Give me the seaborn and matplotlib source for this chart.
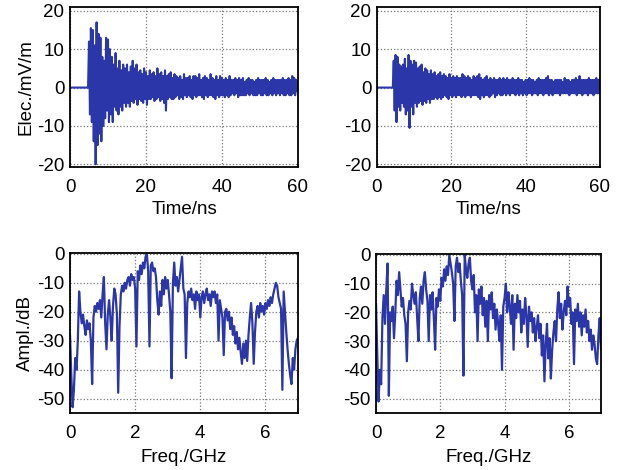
import numpy as np
import seaborn as sns
import matplotlib
matplotlib.use('Agg')
import matplotlib.pyplot as plt

# time axis (ns), 0.25 ns sampling
time_ns = np.arange(0, 60.001, 0.25)

# left time-domain field, mV/m (flat until ~5 ns)
elec_a = [0.0] * 20 + [
    12, -7, 15.5, -9, 15, -14, 11, -20,
    17, -15, 14, -12, 13, -14, 8, -10,
    7, -8, 13, -6, 12.5, -9, 10, -7,
    8, -9, 6, -5, 9, -6, 5, -7,
    7, -5, 4.5, -6, 6, -4, 5, -5,
    6, -4, 4, -5, 5.5, -3.5, 7, -4,
    5, -3, 6, -4.5, 4, -3, 4.5, -3.5,
    3.5, -4, 5, -3, 4, -4.5, 3, -3,
    4.5, -3, 3.5, -2.5, 4, -3.5, 3, -3,
    5, -2.5, 3.5, -3.5, 4, -3, 3, -4,
    4.5, -6, 3, -3, 3.5, -2.5, 4, -3,
    2.5, -3, 3.5, -2.5, 3, -2, 2.5, -3,
    3, -2.5, 2, -3, 3.5, -2, 2.5, -2.5,
    2.5, -2, 3, -2.5, 2, -3, 3, -2,
    3, -2.5, 2.5, -2, 3.5, -2, 2, -2.5,
    2.5, -3, 3, -2, 2.5, -2.5, 2, -2,
    3.5, -2, 2.5, -2.5, 2, -3, 3, -2,
    2, -2.5, 3, -2, 2.5, -2, 2, -2.5,
    2.5, -2, 2, -2.5, 3, -2, 2, -1.5,
    2, -2, 2.5, -1.5, 2, -2.5, 2.5, -2,
    2, -2, 2.5, -2, 1.5, -2, 2, -1.5,
    2.5, -2, 2, -1.5, 2, -2, 1.5, -2,
    2, -2, 2.5, -1.5, 2, -2, 2, -2,
    2, -1.5, 2.5, -2, 2, -2, 1.5, -1.5,
    2, -2, 2.5, -1.5, 2, -2, 2, -1.5,
    2, -2, 2, -1.5, 2.5, -2, 2, -2,
    2, -1.5, 2.5, -2, 2, -2, 3, -1.5,
    2.5, -2, 2, -1, 1.5,
]

# right time-domain field, mV/m (flat until ~4.5 ns)
elec_b = [0.0] * 18 + [
    7, -6, 8.5, -9, 8, -5, 6, -6,
    5.5, -4, 6, -5, 7.5, -7, 5, -6,
    8.5, -10.5, 7, -5, 6, -7, 7, -4,
    6.5, -5, 5, -4, 5.5, -3.5, 6, -4.5,
    4, -3.5, 5, -4, 4.5, -3, 3.5, -4,
    4.5, -3, 3.5, -3, 4, -2.5, 3, -3,
    3.5, -2.5, 4, -3, 3, -2.5, 3.5, -2,
    3, -2.5, 2.5, -3, 3.5, -2, 2.5, -2.5,
    3, -2, 2.5, -2.5, 3, -2, 2.5, -2,
    2.5, -2.5, 3.5, -2, 3, -2.5, 2.5, -2,
    3, -2, 2.5, -2.5, 2, -2, 3, -2,
    2.5, -2, 3, -2.5, 3.5, -3, 2.5, -2,
    2, -2.5, 2.5, -2, 3, -2, 2, -2.5,
    2.5, -2, 2, -1.5, 2.5, -2.5, 2, -2,
    2, -1.5, 2.5, -2, 2, -2, 2.5, -1.5,
    2, -2, 2.5, -1.5, 2, -2, 2, -1.5,
    2.5, -1.5, 2, -2, 2, -1.5, 2.5, -2,
    2, -1.5, 2, -2, 1.5, -1.5, 2, -2,
    2, -1.5, 2.5, -1.5, 2, -2, 2, -1.5,
    1.5, -1.5, 2, -2, 2.5, -1.5, 2, -1.5,
    2, -2, 2, -1.5, 2.5, -1.5, 3, -2,
    2, -1.5, 2, -2, 1.5, -1.5, 2, -1.5,
    2, -1.5, 2, -2, 2, -1.5, 1.5, -1.5,
    2.5, -1.5, 2, -1.5, 2, -2, 1.5, -1.5,
    2, -1.5, 2, -1.5, 2.5, -2, 2, -1.5,
    3, -1.5, 2, -2, 2, -1.5, 2, -1.5,
    2, -2, 2.5, -1.5, 2, -1.5, 2, -2,
    2, -1.5, 2.5, -1.5, 2, -1.5, 2.5,
]

# frequency axis (GHz), 0.04 GHz steps
freq_ghz = np.linspace(0, 7, 176)

# left spectrum, dB
ampl_a = [
    -28, -42, -53, -47, -36, -40, -30, -13, -20, -24,
    -21, -25, -28, -23, -26, -24, -30, -45, -22, -18,
    -20, -17, -19, -16, -22, -14, -8, -24, -33, -21,
    -16, -22, -30, -18, -12, -14, -21, -48, -25, -14,
    -11, -13, -10, -12, -9, -8, -11, -7, -9, -8,
    -12, -32, -6, -9, -4, -7, -3, -5, -1, 0,
    -6, -32, -4, -3, -6, -5, -8, -16, -21, -13,
    -18, -9, -14, -8, -12, -9, -14, -20, -43, -10,
    -3, -11, -8, -13, -9, -5, -1, -12, -14, -36,
    -17, -13, -15, -12, -16, -14, -19, -13, -16, -14,
    -22, -15, -13, -17, -14, -12, -16, -14, -18, -13,
    -15, -13, -17, -14, -30, -16, -19, -22, -35, -20,
    -19, -23, -20, -26, -22, -28, -25, -31, -27, -33,
    -29, -34, -38, -31, -36, -30, -37, -28, -22, -17,
    -24, -38, -27, -20, -18, -22, -17, -20, -18, -21,
    -17, -19, -16, -18, -15, -17, -14, -12, -10, -11,
    -15, -17, -19, -47, -13, -20, -27, -33, -38, -42,
    -45, -36, -40, -33, -30, -29,
]

# right spectrum, dB
ampl_b = [
    -17, -35, -51, -40, -45, -22, -14, -24, -12, -3,
    -49, -20, -23, -18, -29, -20, -9, -14, -6, -12,
    -18, -15, -21, -24, -37, -20, -16, -19, -10, -14,
    -17, -13, -22, -30, -15, -11, -17, -9, -6, -12,
    -16, -30, -14, -19, -13, -22, -33, -15, -18, -12,
    -16, -8, -11, -5, -9, -4, -7, 0, -3, -6,
    -10, -23, -4, -1, -6, -3, -9, -14, -42, 0,
    -5, -8, -3, -1, -9, -12, -7, -20, -14, -30,
    -12, -17, -11, -21, -15, -25, -16, -30, -14, -19,
    -13, -22, -17, -26, -19, -24, -30, -21, -40, -18,
    -15, -10, -20, -13, -18, -24, -14, -33, -17, -22,
    -14, -20, -16, -27, -19, -24, -15, -21, -32, -18,
    -23, -20, -27, -22, -30, -25, -21, -29, -24, -35,
    -28, -44, -31, -24, -36, -29, -43, -33, -27, -23,
    -30, -19, -13, -22, -17, -26, -20, -16, -21, -11,
    -18, -15, -24, -20, -38, -19, -23, -17, -25, -20,
    -28, -21, -25, -19, -27, -23, -30, -26, -33, -28,
    -31, -36, -38, -28, -22, -33,
]

sns.set_theme(style='white')
plt.rcParams['font.family'] = ['Liberation Sans', 'DejaVu Sans']
plt.rcParams['axes.unicode_minus'] = False
plt.rcParams['font.size'] = 13

line_color = '#2b37a8'

fig = plt.figure(figsize=(6.17, 4.70), dpi=100)
W, H = 617, 470


def place(left, top, right, bottom):
    return fig.add_axes([left / W, 1 - bottom / H, (right - left) / W, (bottom - top) / H])


ax_ta = place(70, 7, 298, 167)
ax_tb = place(377, 7, 600, 167)
ax_fa = place(70, 253, 298, 413)
ax_fb = place(376, 254, 601, 413)

sns.lineplot(x=time_ns, y=elec_a, ax=ax_ta, color=line_color, linewidth=1.5)
sns.lineplot(x=time_ns, y=elec_b, ax=ax_tb, color=line_color, linewidth=1.5)
sns.lineplot(x=freq_ghz, y=ampl_a, ax=ax_fa, color=line_color, linewidth=1.6)
sns.lineplot(x=freq_ghz, y=ampl_b, ax=ax_fb, color=line_color, linewidth=1.6)

for ax in (ax_ta, ax_tb):
    ax.set_xlim(0, 60)
    ax.set_ylim(-20.7, 21)
    ax.set_xticks([0, 20, 40, 60])
    ax.set_yticks([-20, -10, 0, 10, 20])
    ax.set_xlabel('Time/ns', fontsize=13.5, labelpad=3, color='black')

for ax in (ax_fa, ax_fb):
    ax.set_xlim(0, 7)
    ax.set_ylim(-55, 0.3)
    ax.set_xticks([0, 2, 4, 6])
    ax.set_yticks([-50, -40, -30, -20, -10, 0])
    ax.set_xlabel('Freq./GHz', fontsize=13.5, labelpad=5, color='black')

ax_ta.set_ylabel('Elec./mV/m', fontsize=13.5, labelpad=2, color='black')
ax_fa.set_ylabel('Ampl./dB', fontsize=13.5, labelpad=2, color='black')
ax_tb.set_ylabel('')
ax_fb.set_ylabel('')

for ax in (ax_ta, ax_tb, ax_fa, ax_fb):
    ax.grid(True, linestyle=':', color='#777777', linewidth=0.9)
    ax.tick_params(axis='both', labelsize=13.5, direction='in', length=3, width=0.8,
                   colors='black')
    ax.tick_params(axis='x', pad=9)
    ax.tick_params(axis='y', pad=4)
    for sp in ax.spines.values():
        sp.set_color('black')
        sp.set_linewidth(1.3)

fig.savefig('out.png', dpi=100)
